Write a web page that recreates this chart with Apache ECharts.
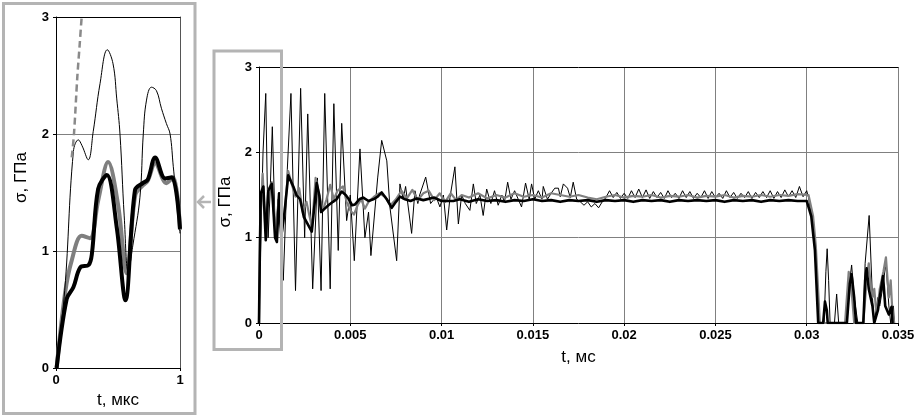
<!DOCTYPE html>
<html><head><meta charset="utf-8">
<script src="https://cdn.jsdelivr.net/npm/echarts@6/dist/echarts.min.js"></script>
<style>html,body{margin:0;padding:0;background:#fff}#c{width:922px;height:419px}</style>
</head><body><div id="c"></div>
<script>
// ---------- data ----------
const insetXTicks = [0, 1];
const mainYTicks = [0, 1, 2, 3];
const insetXName = 't, мкс';
const mainXName = 't, мс';
const yName = 'σ, ГПа';

// Inset (0..1 µs)
const insetThin = [[0,0],[0.07,0.66],[0.14,1.85],[0.18,1.95],[0.21,1.9],[0.26,1.78],[0.3,2.02],[0.355,2.43],[0.414,2.72],[0.46,2.6],[0.49,2.3],[0.516,2.0],[0.55,1.3],[0.583,0.82],[0.62,1.05],[0.677,1.46],[0.704,2.0],[0.73,2.29],[0.77,2.4],[0.81,2.37],[0.85,2.22],[0.89,2.09],[0.92,2.0],[0.946,1.72],[1.0,1.15]];
const insetDashed = [[0.127,1.8],[0.145,2.0],[0.172,2.49],[0.19,2.75],[0.207,3.0],[0.215,3.1]];
const insetGray = [[0.005,0],[0.073,0.64],[0.127,0.92],[0.207,1.13],[0.274,1.11],[0.34,1.43],[0.42,1.76],[0.5,1.4],[0.57,0.81],[0.64,1.48],[0.70,1.56],[0.74,1.6],[0.80,1.75],[0.89,1.58],[0.946,1.63],[1.0,1.18]];
const insetBlack = [[0.005,0],[0.086,0.59],[0.14,0.69],[0.196,0.86],[0.263,0.88],[0.29,0.98],[0.34,1.53],[0.41,1.65],[0.49,1.2],[0.56,0.58],[0.637,1.52],[0.70,1.58],[0.74,1.61],[0.80,1.80],[0.88,1.62],[0.935,1.63],[1.0,1.19]];

// Main (0..0.035 ms)
const mainThin = [[0,0],[0.0001,1.0],[0.00022,2.0],[0.00037,2.69],[0.0005,1.0],[0.00062,1.6],[0.00073,2.3],[0.0009,1.0],[0.00105,1.45],[0.00133,0.5],[0.00155,1.8],[0.00175,2.69],[0.002,0.38],[0.00228,2.75],[0.0025,1.0],[0.00267,2.45],[0.00294,0.4],[0.0032,1.7],[0.0034,0.38],[0.0036,2.69],[0.0039,0.4],[0.0041,2.57],[0.00434,0.85],[0.00453,2.34],[0.0048,1.2],[0.005,1.5],[0.00522,0.73],[0.00553,2.04],[0.0058,1.0],[0.006,1.3],[0.00613,0.79],[0.0065,1.7],[0.00672,2.14],[0.007,1.9],[0.00717,1.36],[0.00754,0.73],[0.00772,1.63],[0.0079,1.45],[0.00803,1.6],[0.00836,1.05],[0.00854,1.55],[0.0087,1.4],[0.0088,1.5],[0.00913,1.71],[0.0094,1.4],[0.0097,1.48],[0.00991,1.36],[0.0101,1.5],[0.01028,1.09],[0.01046,1.47],[0.01073,1.83],[0.01092,1.16],[0.0111,1.5],[0.0113,1.4],[0.01155,1.32],[0.01174,1.63],[0.0119,1.4],[0.0121,1.5],[0.01228,1.26],[0.01247,1.57],[0.0127,1.4],[0.0129,1.55],[0.0131,1.38],[0.0133,1.5],[0.01345,1.42],[0.01362,1.65],[0.0138,1.45],[0.014,1.55],[0.0142,1.45],[0.01438,1.36],[0.0146,1.64],[0.0148,1.45],[0.01493,1.63],[0.0151,1.45],[0.0153,1.55],[0.0155,1.45],[0.01557,1.6],[0.0158,1.45],[0.016,1.52],[0.0162,1.58],[0.0164,1.58],[0.0165,1.48],[0.01667,1.63],[0.0169,1.58],[0.01705,1.47],[0.01721,1.65],[0.0174,1.45],[0.0176,1.42],[0.0178,1.38],[0.018,1.42],[0.0182,1.36],[0.0184,1.4],[0.0186,1.35],[0.0188,1.42],[0.019,1.47],[0.0192,1.55],[0.0194,1.47],[0.0196,1.53],[0.0198,1.46],[0.02,1.52],[0.0202,1.46],[0.0204,1.55],[0.0206,1.47],[0.0208,1.57],[0.021,1.47],[0.0212,1.56],[0.0214,1.46],[0.0216,1.54],[0.0218,1.47],[0.022,1.53],[0.0222,1.46],[0.0224,1.55],[0.0226,1.47],[0.0228,1.52],[0.023,1.46],[0.0232,1.55],[0.0234,1.47],[0.0236,1.54],[0.0238,1.46],[0.024,1.52],[0.0242,1.47],[0.0244,1.55],[0.0246,1.46],[0.0248,1.54],[0.025,1.47],[0.0252,1.52],[0.0254,1.46],[0.0256,1.55],[0.0258,1.47],[0.026,1.53],[0.0262,1.46],[0.0264,1.52],[0.0266,1.47],[0.0268,1.54],[0.027,1.46],[0.0272,1.53],[0.0274,1.47],[0.0276,1.54],[0.0278,1.47],[0.028,1.55],[0.0282,1.46],[0.0284,1.54],[0.0286,1.47],[0.0288,1.56],[0.029,1.48],[0.0292,1.55],[0.0294,1.47],[0.0296,1.6],[0.0298,1.48],[0.03,1.55],[0.0301,1.47],[0.03027,1.24],[0.03045,0.85],[0.03063,0],[0.03095,0],[0.03105,0.6],[0.03112,0.87],[0.0312,0.5],[0.03128,0],[0.03152,0],[0.03164,0.34],[0.03175,0],[0.0322,0],[0.0323,0.4],[0.03246,0.68],[0.0326,0.3],[0.0328,0],[0.0331,0],[0.0332,0.7],[0.03342,1.26],[0.0336,0.3],[0.0337,0],[0.0339,0.3],[0.034,0.2],[0.03415,0.4],[0.03434,0.7],[0.0345,0.2],[0.0346,0],[0.03475,0.2],[0.0348,0]];
const mainGray = [[0,0],[0.00008,1.2],[0.0002,1.75],[0.00035,1.1],[0.0005,1.55],[0.0007,1.65],[0.0009,1.05],[0.0011,1.5],[0.00125,1.05],[0.0014,1.3],[0.0016,1.78],[0.0018,1.62],[0.002,1.48],[0.0022,1.58],[0.0024,1.3],[0.0026,1.42],[0.0029,1.12],[0.0031,1.7],[0.0033,1.5],[0.0035,1.32],[0.0037,1.45],[0.0039,1.62],[0.0041,1.45],[0.0043,1.55],[0.0046,1.6],[0.0048,1.42],[0.005,1.32],[0.0052,1.27],[0.0054,1.38],[0.0056,1.45],[0.0058,1.34],[0.006,1.42],[0.0063,1.48],[0.0066,1.52],[0.0069,1.48],[0.0072,1.38],[0.0075,1.45],[0.0078,1.55],[0.0081,1.46],[0.0084,1.56],[0.0087,1.44],[0.009,1.52],[0.0093,1.55],[0.0096,1.44],[0.0099,1.52],[0.0102,1.42],[0.0105,1.52],[0.0108,1.44],[0.0111,1.5],[0.0115,1.47],[0.012,1.52],[0.0125,1.46],[0.013,1.5],[0.0135,1.47],[0.014,1.52],[0.0145,1.48],[0.015,1.5],[0.0155,1.47],[0.016,1.52],[0.0165,1.5],[0.017,1.48],[0.0175,1.5],[0.018,1.47],[0.0185,1.45],[0.019,1.48],[0.0195,1.5],[0.02,1.47],[0.0205,1.49],[0.021,1.48],[0.0215,1.5],[0.022,1.47],[0.0225,1.49],[0.023,1.48],[0.0235,1.5],[0.024,1.47],[0.0245,1.49],[0.025,1.48],[0.0255,1.5],[0.026,1.47],[0.0265,1.49],[0.027,1.48],[0.0275,1.5],[0.028,1.48],[0.0285,1.5],[0.029,1.49],[0.0295,1.51],[0.0301,1.5],[0.03035,1.25],[0.0305,0.9],[0.03072,0],[0.0321,0],[0.0322,0.3],[0.0323,0.6],[0.03245,0.4],[0.0326,0],[0.0331,0],[0.0333,0.55],[0.0334,0.7],[0.0335,0.45],[0.0336,0.3],[0.0337,0.4],[0.0338,0.15],[0.0339,0.2],[0.034,0.4],[0.0342,0.6],[0.03434,0.77],[0.0345,0.3],[0.0346,0.5],[0.0347,0.1],[0.0348,0]];
const mainBlack = [[0,0],[0.00005,0.9],[0.0001,1.52],[0.00024,1.6],[0.00037,0.97],[0.00051,1.55],[0.0007,1.63],[0.00088,1.0],[0.00098,0.95],[0.0011,1.52],[0.00124,1.05],[0.0014,1.3],[0.0016,1.73],[0.00188,1.6],[0.00205,1.5],[0.00225,1.45],[0.00246,1.24],[0.00289,1.07],[0.003,1.3],[0.00316,1.64],[0.0033,1.5],[0.0034,1.3],[0.0036,1.34],[0.0038,1.38],[0.00405,1.42],[0.00425,1.45],[0.00453,1.54],[0.00475,1.5],[0.00489,1.46],[0.0051,1.38],[0.00526,1.39],[0.0055,1.45],[0.00571,1.47],[0.006,1.43],[0.00626,1.45],[0.0065,1.48],[0.00672,1.53],[0.007,1.45],[0.00727,1.35],[0.0075,1.42],[0.00772,1.48],[0.008,1.45],[0.0083,1.43],[0.00864,1.46],[0.009,1.44],[0.0096,1.47],[0.01,1.43],[0.01064,1.43],[0.011,1.45],[0.0115,1.42],[0.012,1.45],[0.0125,1.43],[0.013,1.44],[0.0135,1.42],[0.014,1.44],[0.0145,1.43],[0.015,1.45],[0.0155,1.43],[0.016,1.44],[0.0165,1.42],[0.017,1.44],[0.0175,1.43],[0.018,1.44],[0.0185,1.42],[0.019,1.44],[0.0195,1.43],[0.02,1.44],[0.0205,1.42],[0.021,1.44],[0.0215,1.43],[0.022,1.44],[0.0225,1.42],[0.023,1.44],[0.0235,1.43],[0.024,1.44],[0.0245,1.43],[0.025,1.44],[0.0255,1.42],[0.026,1.44],[0.0265,1.43],[0.027,1.44],[0.0275,1.42],[0.028,1.44],[0.0285,1.43],[0.029,1.44],[0.0295,1.43],[0.03,1.43],[0.03025,1.25],[0.03045,0.85],[0.03063,0],[0.0309,0],[0.031,0.25],[0.0311,0.15],[0.03115,0],[0.0322,0],[0.03236,0.46],[0.03246,0.57],[0.0326,0.3],[0.0327,0],[0.0331,0],[0.0332,0.5],[0.03328,0.64],[0.0334,0.4],[0.0336,0.2],[0.0337,0],[0.0339,0.15],[0.034,0.3],[0.03418,0.55],[0.0343,0.2],[0.0345,0.1],[0.03465,0.19],[0.0347,0]];

// ---------- chart ----------
const FONT = "'Liberation Sans', Arial, sans-serif";
const lbl = {color:'#000', fontSize:13, fontWeight:'bold', fontFamily:FONT};
const nameStyle = {color:'#000', fontSize:17, fontFamily:FONT};
const gridLine = {show:true, showMinLine:false, lineStyle:{color:'#808080', width:1}};
const tick = {show:true, length:3, lineStyle:{color:'#000'}};
const chart = echarts.init(document.getElementById('c'), null, {renderer:'canvas'});

function line(data, xi, yi, color, width, extra) {
  return Object.assign({type:'line', data, xAxisIndex:xi, yAxisIndex:yi, showSymbol:false, symbol:'none',
    lineStyle:{color, width, join:'round'}, clip:true, animation:false, silent:true}, extra || {});
}

chart.setOption({
  animation:false,
  backgroundColor:'#fff',
  grid:[
    {left:56, top:17, width:124, height:351},
    {left:259, top:67, width:639, height:256}
  ],
  xAxis:[
    {type:'value', gridIndex:0, min:0, max:1, interval:1, position:'bottom',
     axisLine:{show:true, onZero:false, lineStyle:{color:'#000', width:1}}, axisTick:tick,
     axisLabel:Object.assign({margin:6, formatter: v => insetXTicks.includes(v) ? String(v) : ''}, lbl),
     splitLine:{show:false}, name:insetXName, nameLocation:'middle', nameGap:24, nameTextStyle:nameStyle},
    {type:'value', gridIndex:0, min:0, max:1, position:'top',
     axisLine:{show:true, onZero:false, lineStyle:{color:'#000', width:1}}, axisTick:{show:false},
     axisLabel:{show:false}, splitLine:{show:false}},
    {type:'value', gridIndex:1, min:0, max:0.035, interval:0.005, position:'bottom',
     axisLine:{show:true, onZero:false, lineStyle:{color:'#000', width:1}}, axisTick:tick,
     axisLabel:Object.assign({margin:6, formatter: v => String(+v.toFixed(3))}, lbl),
     splitLine:Object.assign({}, gridLine, {showMaxLine:true}),
     name:mainXName, nameLocation:'middle', nameGap:26, nameTextStyle:nameStyle},
    {type:'value', gridIndex:1, min:0, max:0.035, position:'top',
     axisLine:{show:true, onZero:false, lineStyle:{color:'#000', width:1}}, axisTick:{show:false},
     axisLabel:{show:false}, splitLine:{show:false}}
  ],
  yAxis:[
    {type:'value', gridIndex:0, min:0, max:3, interval:1, position:'left',
     axisLine:{show:true, onZero:false, lineStyle:{color:'#000', width:1}}, axisTick:tick,
     axisLabel:Object.assign({margin:7, formatter: v => mainYTicks.includes(v) ? String(v) : ''}, lbl),
     splitLine:Object.assign({}, gridLine, {showMaxLine:false}),
     name:yName, nameLocation:'middle', nameGap:26, nameTextStyle:Object.assign({padding:[0,0,0,30]}, nameStyle)},
    {type:'value', gridIndex:0, min:0, max:3, position:'right',
     axisLine:{show:true, onZero:false, lineStyle:{color:'#555', width:1}}, axisTick:{show:false},
     axisLabel:{show:false}, splitLine:{show:false}},
    {type:'value', gridIndex:1, min:0, max:3, interval:1, position:'left',
     axisLine:{show:true, onZero:false, lineStyle:{color:'#000', width:1}}, axisTick:tick,
     axisLabel:Object.assign({margin:7, formatter: v => mainYTicks.includes(v) ? String(v) : ''}, lbl),
     splitLine:Object.assign({}, gridLine, {showMaxLine:false}),
     name:yName, nameLocation:'middle', nameGap:24, nameTextStyle:Object.assign({padding:[0,14,0,0]}, nameStyle)}
  ],
  series:[
    line(insetGray, 0, 0, '#7f7f7f', 4, {smooth:0.35}),
    line(insetBlack, 0, 0, '#000', 4, {smooth:0.35}),
    line(insetThin, 0, 0, '#000', 1, {smooth:0.4}),
    line(insetDashed, 0, 0, '#8a8a8a', 2.5, {smooth:0.3, lineStyle:{color:'#8a8a8a', width:2.5, type:[7,4]}}),
    line(mainThin, 2, 2, '#000', 1),
    line(mainGray, 2, 2, '#808080', 2.2),
    line(mainBlack, 2, 2, '#000', 2.6)
  ],
  graphic:[
    {type:'rect', shape:{x:3.5, y:3.5, width:191.5, height:410}, style:{fill:null, stroke:'#b4b4b4', lineWidth:3}, silent:true, z:100},
    {type:'rect', shape:{x:214, y:51, width:67.5, height:298.5}, style:{fill:null, stroke:'#b4b4b4', lineWidth:3}, silent:true, z:100},
    {type:'polyline', shape:{points:[[211,202],[198,202]]}, style:{stroke:'#b4b4b4', lineWidth:2.5, fill:null}, silent:true, z:100},
    {type:'polyline', shape:{points:[[204,196],[198,202],[204,208]]}, style:{stroke:'#b4b4b4', lineWidth:2.5, fill:null}, silent:true, z:100}
  ]
});
</script>
</body></html>
